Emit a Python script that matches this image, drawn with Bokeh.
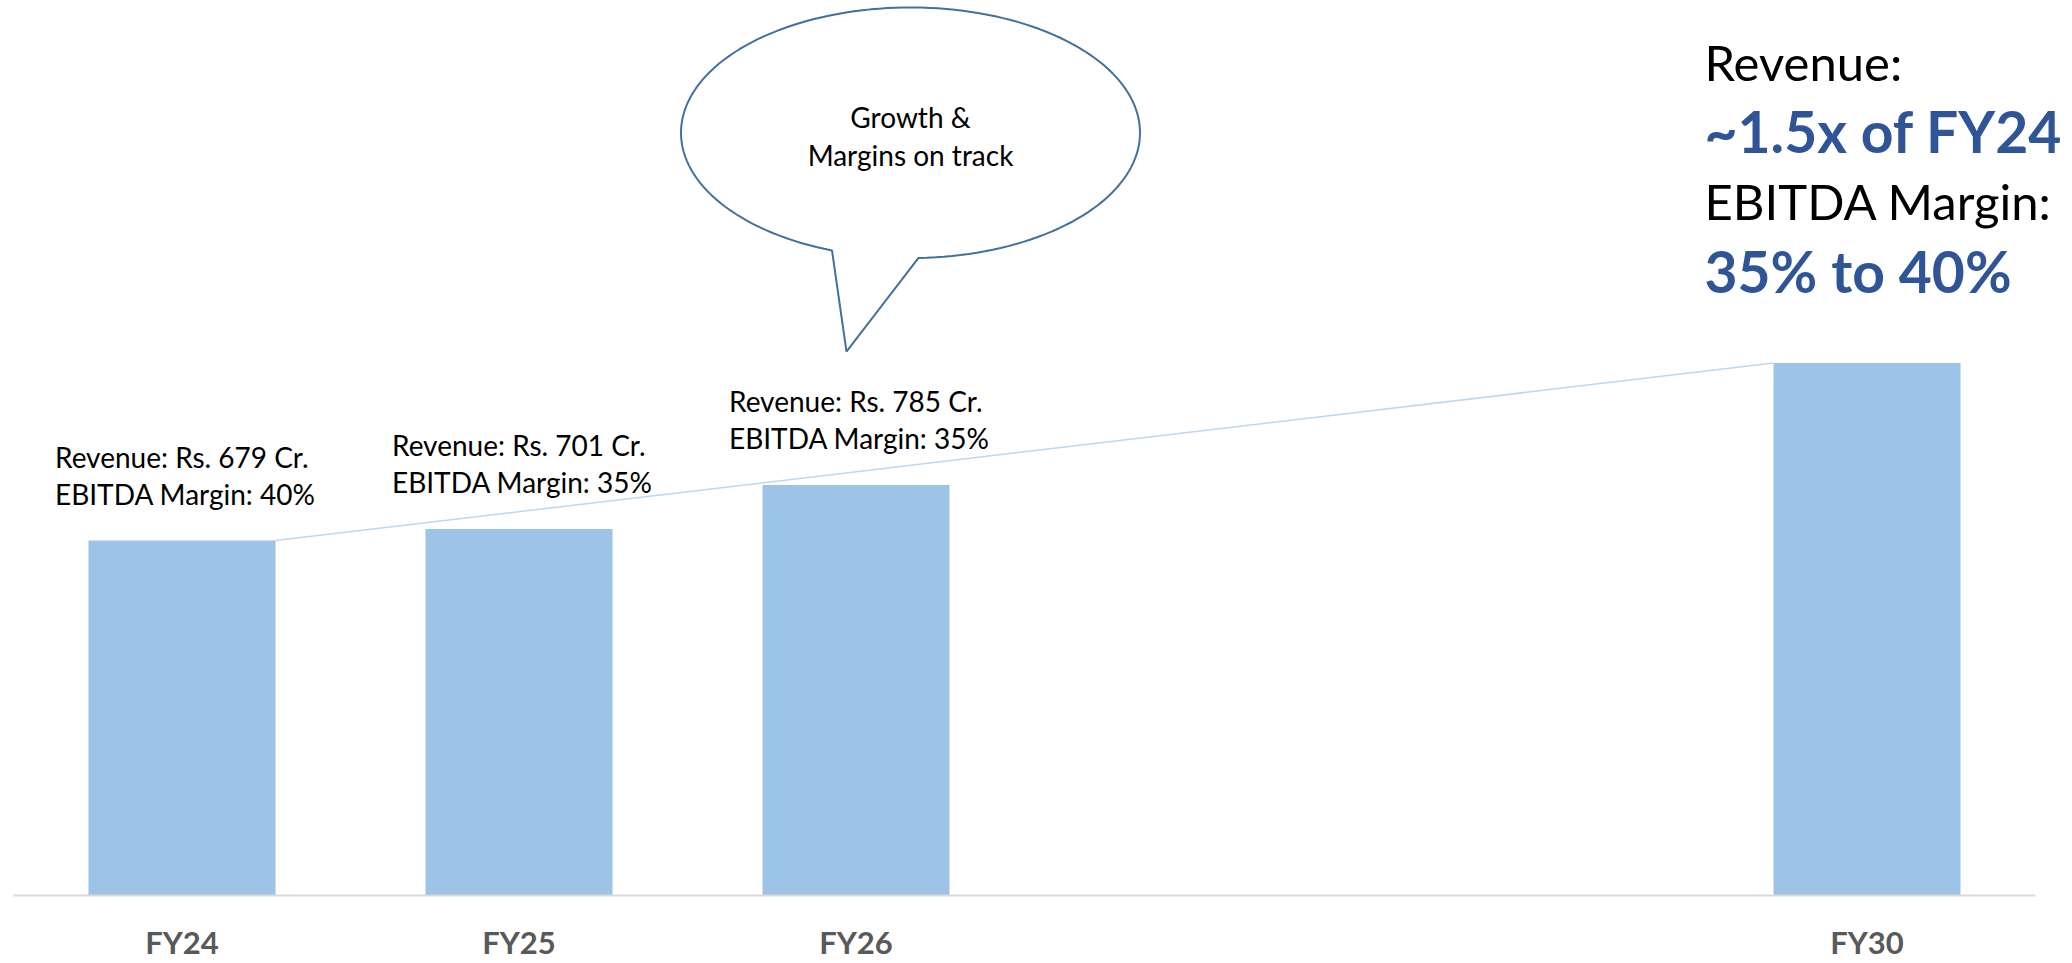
import math
from bokeh.plotting import figure
from bokeh.models import Range1d, FixedTicker
from bokeh.core.properties import value
from bokeh.embed import file_html
from bokeh.resources import INLINE

# ---- data ----
categories = ["FY24", "FY25", "FY26", "", "", "FY30"]
revenue = [679, 701, 785, None, None, 1018.5]      # Rs. Cr. (FY30 ~1.5x of FY24)
ebitda_margin = [40, 35, 35, None, None, None]     # %
callout_text = ["Growth &", "Margins on track"]
target_lines = ["Revenue:", "~1.5x of FY24", "EBITDA Margin:", "35% to 40%"]

# ---- layout constants ----
W, H = 2072, 963
LEFT, TOP, BOTTOM = 13, 0, 63
AXIS_RIGHT_PX = 2035          # where the category axis ends
FRAME_W = W - LEFT
FRAME_H = H - TOP - BOTTOM
Y_MAX = 1712
BAR_W = 0.555
FONT = "Lato"
BAR_COLOR = "#9DC3E6"
BLUE = "#2F5597"

n = len(categories)
x_lo, x_axis_hi = -0.5, n - 0.5
SLOT_PX = (AXIS_RIGHT_PX - LEFT) / (x_axis_hi - x_lo)
x_hi = x_lo + FRAME_W / SLOT_PX


def dx(px):
    return x_lo + (px - LEFT) / SLOT_PX


def dy(py):
    return (TOP + FRAME_H - py) * Y_MAX / FRAME_H


p = figure(width=W, height=H, x_range=Range1d(x_lo, x_hi), y_range=Range1d(0, Y_MAX),
           output_backend="svg", toolbar_location=None, y_axis_location=None,
           min_border_left=LEFT, min_border_right=0, min_border_top=TOP,
           min_border_bottom=BOTTOM)
p.outline_line_color = None
p.grid.visible = False
p.background_fill_color = "white"
p.border_fill_color = "white"

idx = [i for i, v in enumerate(revenue) if v is not None]
vals = [revenue[i] for i in idx]

# connector line FY24 top-right -> FY30 top-left
p.segment(x0=[idx[0] + BAR_W / 2], y0=[vals[0]], x1=[idx[-1] - BAR_W / 2], y1=[vals[-1]],
          line_color="#BDD7EE", line_width=1.5)

p.vbar(x=idx, top=vals, bottom=0, width=BAR_W, fill_color=BAR_COLOR, line_color=None)

# bar labels
lab_idx = [i for i in idx if ebitda_margin[i] is not None]
lab_y = [revenue[i] for i in lab_idx]
line1 = ["Revenue: Rs. %d Cr." % revenue[i] for i in lab_idx]
line2 = ["EBITDA Margin: %d%%" % ebitda_margin[i] for i in lab_idx]
for txt, off in ((line1, -84), (line2, -47)):
    p.text(x=lab_idx, y=lab_y, text=txt, x_offset=-127, y_offset=off,
           text_font=value(FONT), text_font_size="28px", text_color="#000000",
           text_align="left", text_baseline="middle")

# speech bubble
cx, cy, a, b = 910, 133, 229.5, 126
bx, by = [], []
t0, t1 = math.radians(88), math.radians(110 - 360)
steps = 160
for k in range(steps + 1):
    t = t0 + (t1 - t0) * k / steps
    bx.append(dx(cx + a * math.cos(t)))
    by.append(dy(cy + b * math.sin(t)))
bx.append(dx(846)); by.append(dy(353))
p.patch(bx, by, fill_color="white", line_color="#41719C", line_width=2)
p.text(x=[dx(910)] * 2, y=[dy(117), dy(155)], text=callout_text,
       text_font=value(FONT), text_font_size="28px", text_color="#000000",
       text_align="center", text_baseline="middle")

# FY30 target annotation
ty = [62, 131, 202, 272]
for k, s in enumerate(target_lines):
    bold = k % 2 == 1
    p.text(x=[dx(1704)], y=[dy(ty[k])], text=[s], text_font=value(FONT),
           text_font_size="57px" if bold else "49px",
           text_font_style="bold" if bold else "normal",
           text_color=BLUE if bold else "#000000",
           text_align="left", text_baseline="middle")

# x axis
ax = p.xaxis[0]
ax.bounds = (x_lo, x_axis_hi)
ax.ticker = FixedTicker(ticks=list(range(n)))
ax.major_label_overrides = {i: c for i, c in enumerate(categories)}
ax.axis_line_color = "#D9D9D9"
ax.axis_line_width = 2
ax.major_tick_line_color = None
ax.minor_tick_line_color = None
ax.major_tick_out = 0
ax.major_tick_in = 0
ax.major_label_standoff = 27
ax.major_label_text_font = FONT
ax.major_label_text_font_style = "bold"
ax.major_label_text_font_size = "31px"
ax.major_label_text_color = "#595959"

open("out.html", "w").write(file_html(p, INLINE))
